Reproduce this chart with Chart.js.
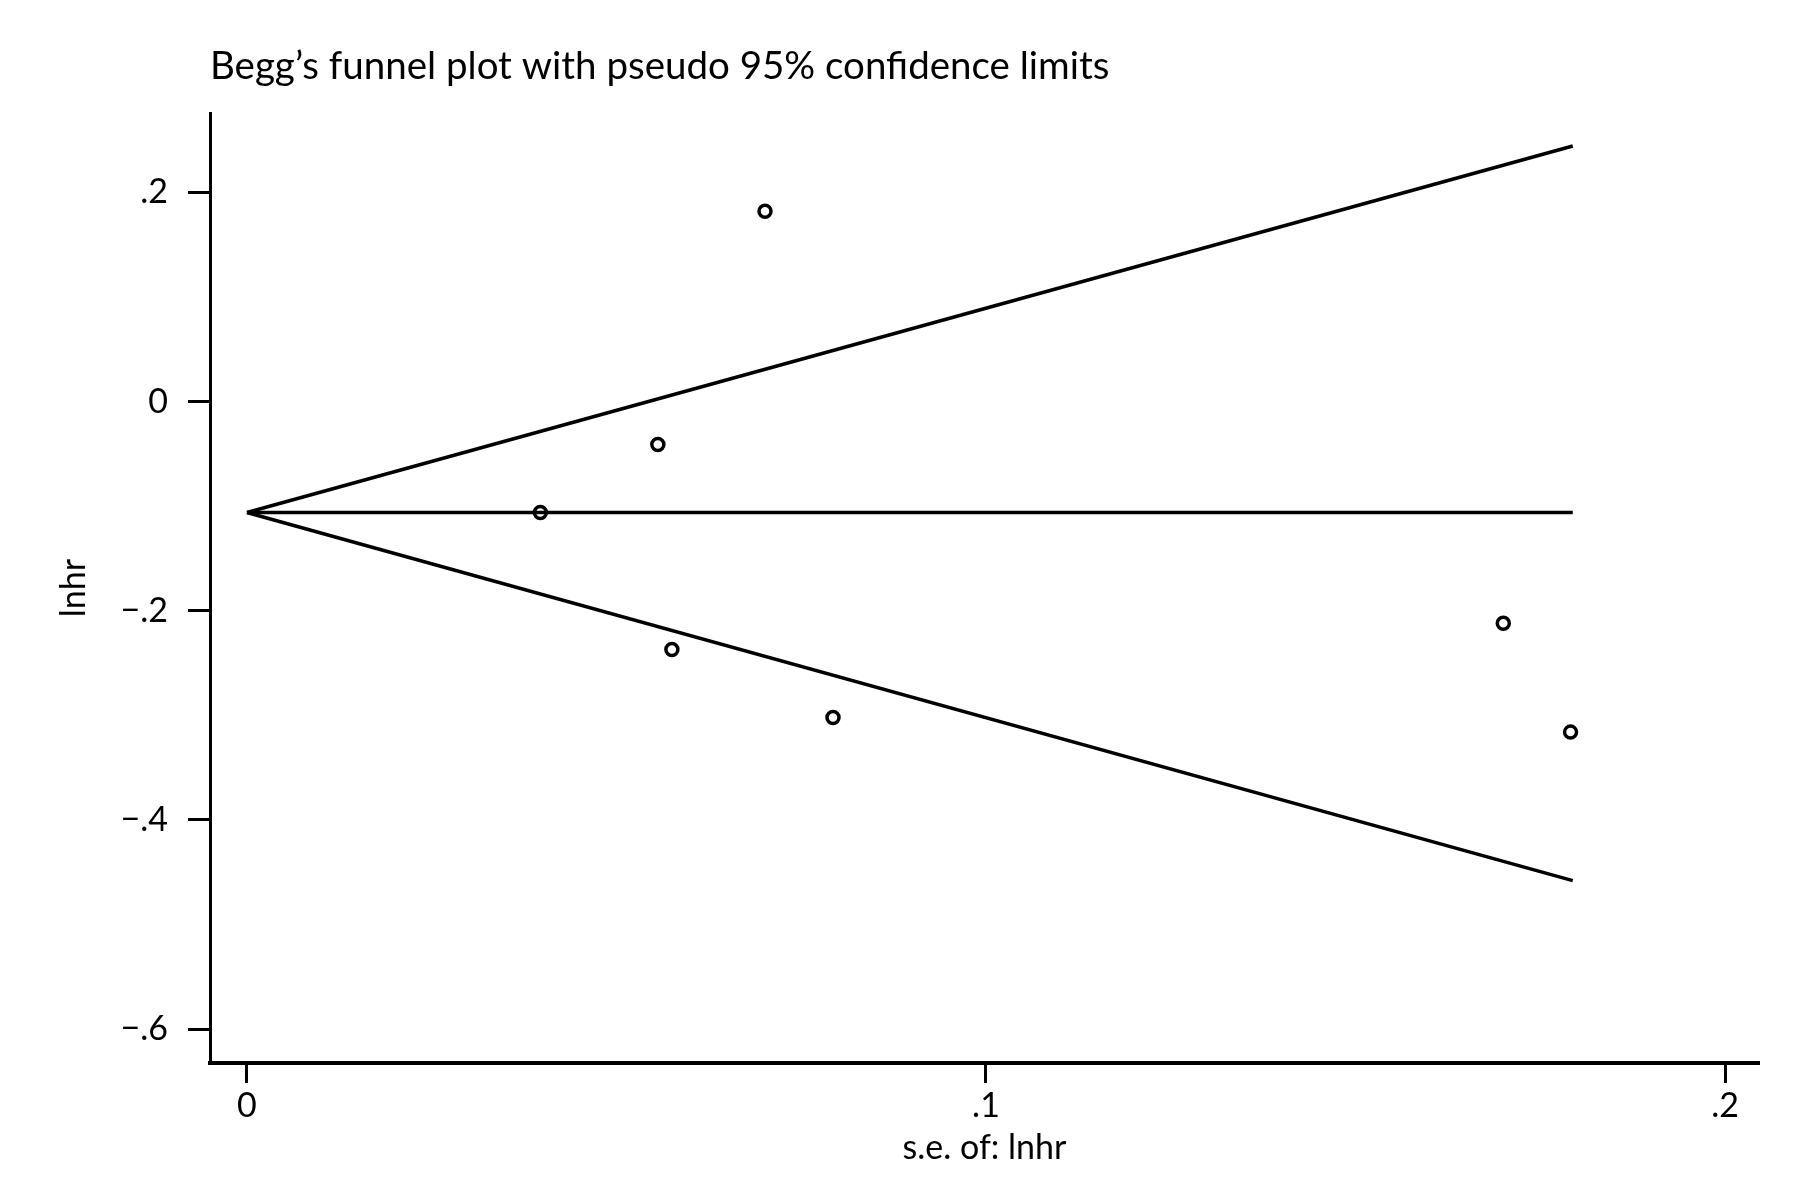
<!DOCTYPE html>
<html>
<head>
<meta charset="utf-8">
<title>Begg's funnel plot</title>
<script src="https://cdn.jsdelivr.net/npm/chart.js@4.4.1/dist/chart.umd.min.js"></script>
<style>
  html, body { margin: 0; padding: 0; background: #fff; }
  canvas { display: block; }
</style>
</head>
<body>
<canvas id="funnel" width="1800" height="1200"></canvas>
<script>
// studies: standard error and log hazard ratio
var seLnhr = [0.0397, 0.0556, 0.0701, 0.0575, 0.0793, 0.1700, 0.1791];
var lnhr = [-0.106, -0.041, 0.182, -0.237, -0.302, -0.212, -0.316];

// pseudo 95% limits and pooled estimate (end points of each line)
var limitSe = [0, 0.1794];
var upperLimit = [-0.106, 0.2444];
var pooled = [-0.106, -0.106];
var lowerLimit = [-0.106, -0.458];

// axis ticks
var xTicks = [0, 0.1, 0.2];
var yTicks = [-0.6, -0.4, -0.2, 0, 0.2];

var fontFamily = "Lato, 'Open Sans', sans-serif";

function pairs(xs, ys) {
  return xs.map(function (x, i) { return { x: x, y: ys[i] }; });
}

// Stata style labels: ".2", "0", "−.4"
function stataLabel(value) {
  var v = Math.round(value * 10) / 10;
  if (v === 0) return "0";
  var s = Math.abs(v).toString().replace(/^0/, "");
  return v < 0 ? "\u2212" + s : s;
}

function lineSet(ys) {
  return {
    type: "scatter",
    data: pairs(limitSe, ys),
    showLine: true,
    borderColor: "#000",
    borderWidth: 3.5,
    pointRadius: 0,
    fill: false
  };
}

var ctx = document.getElementById("funnel").getContext("2d");

var chart = new Chart(ctx, {
  type: "scatter",
  data: {
    datasets: [
      {
        data: pairs(seLnhr, lnhr),
        pointStyle: "circle",
        pointRadius: 6,
        borderWidth: 3.5,
        borderColor: "#000",
        backgroundColor: "rgba(0,0,0,0)"
      },
      lineSet(upperLimit),
      lineSet(pooled),
      lineSet(lowerLimit)
    ]
  },
  options: {
    responsive: false,
    devicePixelRatio: 1,
    animation: false,
    layout: { padding: { left: 0, right: 41, top: 0, bottom: 0 } },
    plugins: {
      legend: { display: false },
      tooltip: { enabled: false },
      title: {
        display: true,
        text: "Begg\u2019s funnel plot with pseudo 95% confidence limits",
        align: "start",
        fullSize: false,
        color: "#000",
        font: { family: fontFamily, size: 38.5, weight: "normal", lineHeight: 1.2 },
        padding: { top: 43, bottom: 24 }
      }
    },
    scales: {
      x: {
        type: "linear",
        min: -0.005,
        max: 0.2046,
        afterFit: function (scale) { scale.height = 137; },
        afterBuildTicks: function (scale) {
          scale.ticks = xTicks.map(function (v) { return { value: v }; });
        },
        ticks: {
          color: "#000",
          font: { family: fontFamily, size: 34 },
          padding: 3,
          maxRotation: 0,
          callback: stataLabel
        },
        grid: {
          drawOnChartArea: false,
          drawTicks: true,
          tickLength: 20,
          tickWidth: 3,
          tickColor: "#000"
        },
        border: { display: true, color: "#000", width: 4 },
        title: {
          display: true,
          text: "s.e. of: lnhr",
          color: "#000",
          font: { family: fontFamily, size: 34, lineHeight: 1.2 },
          padding: { top: 0, bottom: 32 }
        }
      },
      y: {
        type: "linear",
        min: -0.6324,
        max: 0.2758,
        afterFit: function (scale) { scale.width = 210; },
        afterBuildTicks: function (scale) {
          scale.ticks = yTicks.map(function (v) { return { value: v }; });
        },
        ticks: {
          color: "#000",
          font: { family: fontFamily, size: 34 },
          padding: 20,
          callback: stataLabel
        },
        grid: {
          drawOnChartArea: false,
          drawTicks: true,
          tickLength: 22,
          tickWidth: 3,
          tickColor: "#000"
        },
        border: { display: true, color: "#000", width: 3 },
        title: {
          display: true,
          text: "lnhr",
          color: "#000",
          font: { family: fontFamily, size: 34, lineHeight: 1.2 },
          padding: { top: 54, bottom: 0 }
        }
      }
    }
  }
});
</script>
</body>
</html>
